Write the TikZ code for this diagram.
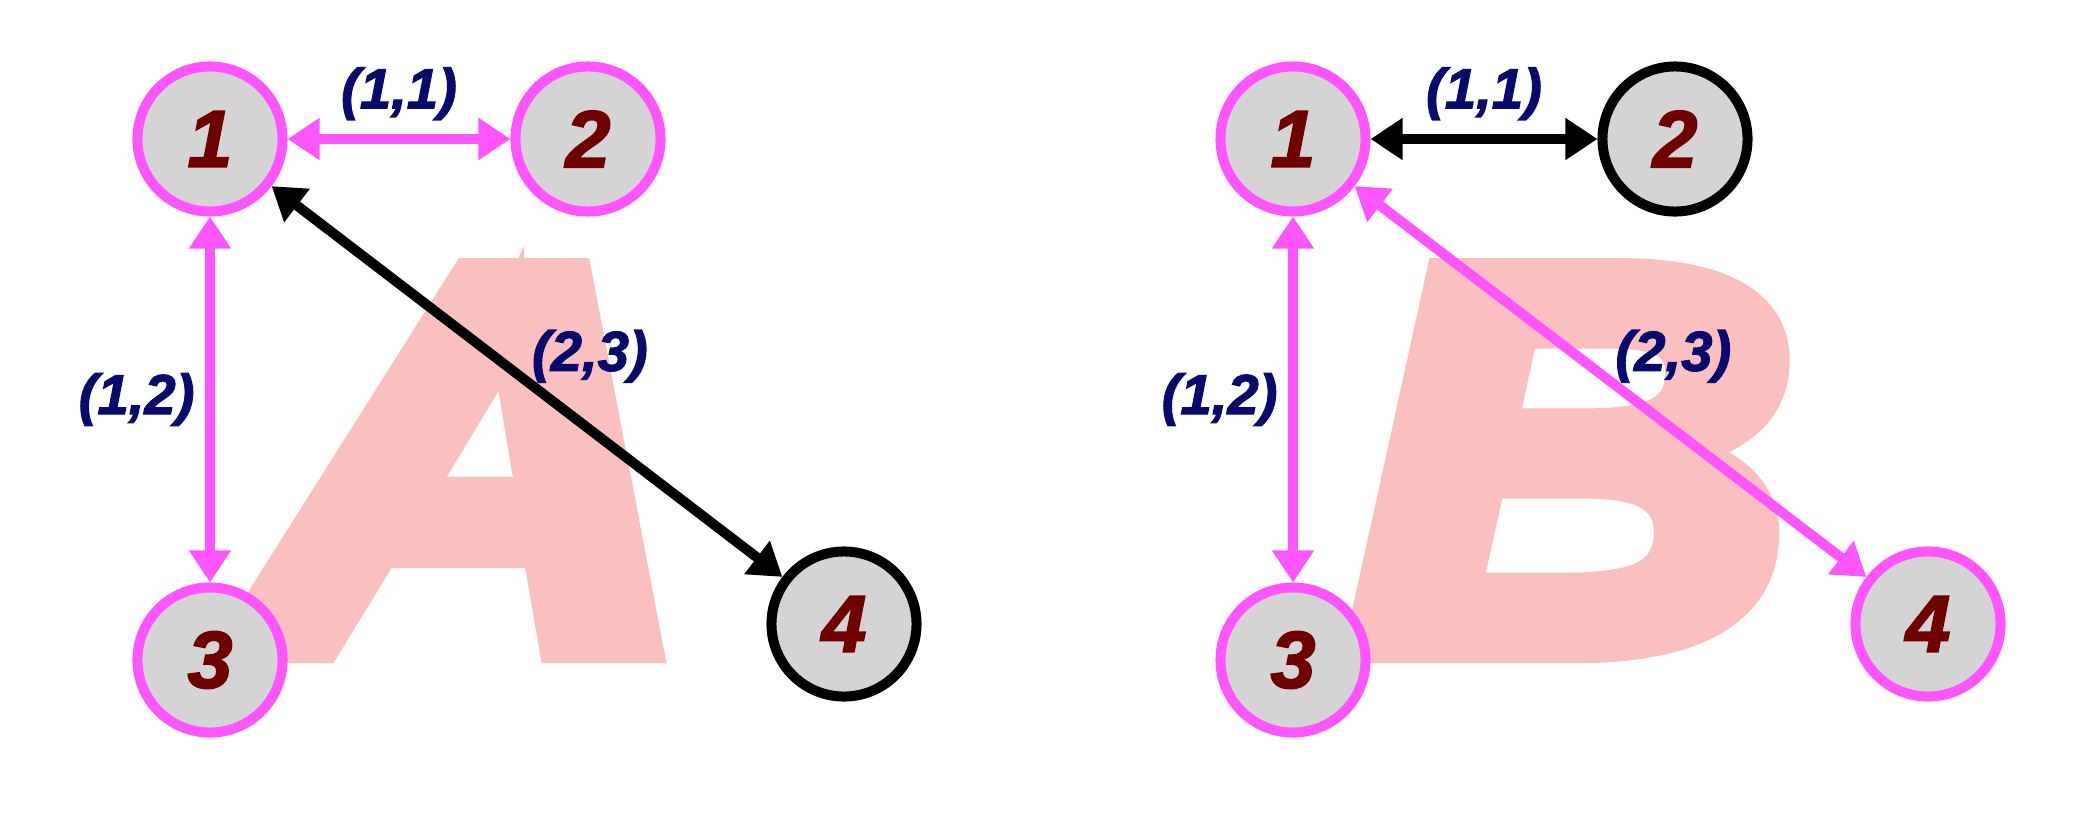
\documentclass[tikz,border=0pt]{standalone}
\usepackage{fontspec}
\setmainfont{Liberation Sans}
\newfontfamily\heavyfont[FakeBold=6]{Liberation Sans Bold Italic}
\newfontfamily\numfont[FakeBold=2]{Liberation Sans Bold Italic}
\usepackage{xcolor}
\usetikzlibrary{arrows.meta,positioning}
\definecolor{gmag}{RGB}{255,85,255}
\definecolor{ggray}{RGB}{212,212,212}
\definecolor{gred}{RGB}{110,0,0}
\definecolor{gnavy}{RGB}{10,10,110}
\definecolor{gpink}{RGB}{250,192,192}

\begin{document}
\begin{tikzpicture}[x=0.01cm,y=-0.01cm,
    vtx/.style={circle,draw=#1,fill=ggray,line width=0.1cm,minimum size=1.45cm,inner sep=0pt,
       text=gred,font=\fontsize{23}{23}\selectfont\numfont},
    lnk/.style={draw=#1,line width=0.1cm,{Triangle[length=0.32cm,width=0.4cm]}-{Triangle[length=0.32cm,width=0.4cm]}},
    lbl/.style={text=gnavy,inner sep=0pt,font=\fontsize{16}{16}\selectfont\numfont},
    bigletter/.style={text=gpink,inner sep=0pt,anchor=base,xscale=1.13,font=\fontsize{154}{154}\selectfont\heavyfont}]
    \useasboundingbox (0,0) rectangle (2096,830);
    % background letters
    \node[bigletter] (letA) at (468,647) {A};
    \node[bigletter] (letB) at (1573,647) {B};
    % graph A
    \node[vtx=gmag] (a1) at (210,139) {1};
    \node[vtx=gmag] (a2) at (588,139) {2};
    \node[vtx=gmag] (a3) at (210,660) {3};
    \node[vtx=black] (a4) at (844,624) {4};
    \draw[lnk=gmag] (a1) -- node[lbl,above=4pt] (la12) {(1,1)} (a2);
    \draw[lnk=gmag] (a1) -- node[lbl,left=3pt] (la13) {(1,2)} (a3);
    \draw[lnk=black] (a1) -- node[lbl,above right=-0.06cm and 0cm] (la14) {(2,3)} (a4);
    % graph B
    \node[vtx=gmag] (b1) at (1293,139) {1};
    \node[vtx=black] (b2) at (1675,139) {2};
    \node[vtx=gmag] (b3) at (1293,660) {3};
    \node[vtx=gmag] (b4) at (1928,624) {4};
    \draw[lnk=black] (b1) -- node[lbl,above=4pt] (lb12) {(1,1)} (b2);
    \draw[lnk=gmag] (b1) -- node[lbl,left=3pt] (lb13) {(1,2)} (b3);
    \draw[lnk=gmag] (b1) -- node[lbl,above right=-0.06cm and 0cm] (lb14) {(2,3)} (b4);
\end{tikzpicture}
\end{document}
